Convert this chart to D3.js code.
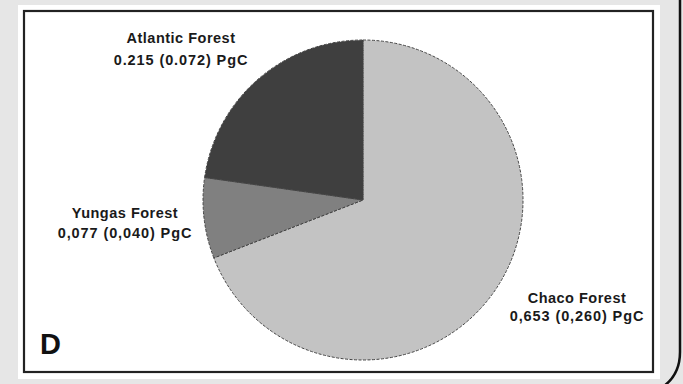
<!DOCTYPE html>
<html><head><meta charset="utf-8">
<script src="https://cdn.jsdelivr.net/npm/d3@7"></script>
<style>html,body{margin:0;padding:0;background:#e6e6e6;}svg{display:block;}</style>
</head><body>
<script>
const categories = ["Chaco Forest", "Yungas Forest", "Atlantic Forest"];
const values = [0.653, 0.077, 0.215];
const valueLabels = ["0,653 (0,260) PgC", "0,077 (0,040) PgC", "0.215 (0.072) PgC"];
const colors = ["#c3c3c3", "#808080", "#3f3f3f"];
const panelLetter = "D";

const W = 683, H = 384;
const svg = d3.select("body").append("svg").attr("width", W).attr("height", H);
svg.append("rect").attr("width", W).attr("height", H).attr("fill", "#e6e6e6");
svg.append("rect").attr("x", 18).attr("y", 5).attr("width", 642).attr("height", 374).attr("fill", "#fff");
svg.append("rect").attr("x", 24).attr("y", 11).attr("width", 629).attr("height", 361)
  .attr("fill", "#fff").attr("stroke", "#222").attr("stroke-width", 2.2);
svg.append("path").attr("d", "M680,0 L680,352 Q680,374 664,386")
  .attr("fill", "none").attr("stroke", "#111").attr("stroke-width", 2.5);

const data = categories.map((c, i) => ({ name: c, value: values[i], label: valueLabels[i], color: colors[i] }));
const pie = d3.pie().value(d => d.value).sort(null).startAngle(0).endAngle(2 * Math.PI);
const arc = d3.arc().innerRadius(0).outerRadius(160);
const g = svg.append("g").attr("transform", "translate(363,200)");
g.selectAll("path").data(pie(data)).join("path")
  .attr("d", arc).attr("fill", d => d.data.color)
  .attr("stroke", "#444").attr("stroke-width", 1).attr("stroke-dasharray", "3,1.5");

const labelPos = { "Atlantic Forest": [181, 43, 65], "Yungas Forest": [125, 218, 238], "Chaco Forest": [577, 303, 321] };
const tg = svg.append("g").attr("font-family", "Liberation Sans, Arial, sans-serif")
  .attr("font-size", 14.5).attr("font-weight", "bold").attr("fill", "#1a1a1a").attr("text-anchor", "middle");
data.forEach(d => {
  const p = labelPos[d.name];
  tg.append("text").attr("x", p[0]).attr("y", p[1]).attr("letter-spacing", 0.5).text(d.name);
  tg.append("text").attr("x", p[0]).attr("y", p[2]).attr("letter-spacing", 0.9).text(d.label);
});
svg.append("text").attr("x", 40).attr("y", 354).attr("font-family", "Liberation Sans, Arial, sans-serif")
  .attr("font-weight", "bold").attr("font-size", 29).attr("fill", "#111").text(panelLetter);
</script>
</body></html>
